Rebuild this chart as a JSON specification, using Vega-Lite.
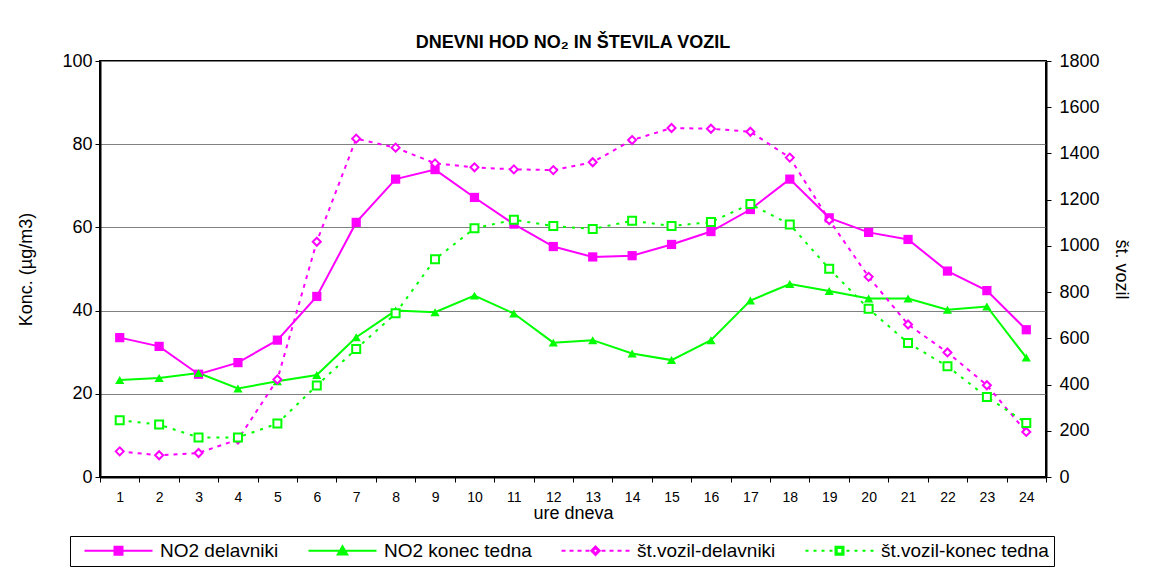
{
  "$schema": "https://vega.github.io/schema/vega-lite/v6.json",
  "width": 946,
  "height": 416,
  "autosize": {"type": "none"},
  "padding": {"left": 100, "top": 61, "right": 103, "bottom": 91},
  "background": "white",
  "config": {
    "font": "Liberation Sans",
    "view": {"stroke": "black", "strokeWidth": 2},
    "axis": {"labelColor": "black", "titleColor": "black", "tickColor": "black", "domainColor": "black", "domainWidth": 2, "tickSize": 5, "titleFontWeight": "normal"}
  },
  "title": {"text": "DNEVNI HOD NO₂ IN ŠTEVILA VOZIL", "fontSize": 18, "fontWeight": "bold", "offset": 0, "color": "black", "anchor": "middle"},
  "data": {"values": [
    {"hour":1,"series":"NO2 delavniki","value":33.5},{"hour":2,"series":"NO2 delavniki","value":31.4},{"hour":3,"series":"NO2 delavniki","value":24.7},{"hour":4,"series":"NO2 delavniki","value":27.5},{"hour":5,"series":"NO2 delavniki","value":32.9},{"hour":6,"series":"NO2 delavniki","value":43.4},{"hour":7,"series":"NO2 delavniki","value":61.2},{"hour":8,"series":"NO2 delavniki","value":71.6},{"hour":9,"series":"NO2 delavniki","value":73.9},{"hour":10,"series":"NO2 delavniki","value":67.2},{"hour":11,"series":"NO2 delavniki","value":60.8},{"hour":12,"series":"NO2 delavniki","value":55.4},{"hour":13,"series":"NO2 delavniki","value":52.9},{"hour":14,"series":"NO2 delavniki","value":53.2},{"hour":15,"series":"NO2 delavniki","value":55.9},{"hour":16,"series":"NO2 delavniki","value":59.0},{"hour":17,"series":"NO2 delavniki","value":64.3},{"hour":18,"series":"NO2 delavniki","value":71.6},{"hour":19,"series":"NO2 delavniki","value":62.3},{"hour":20,"series":"NO2 delavniki","value":58.8},{"hour":21,"series":"NO2 delavniki","value":57.1},{"hour":22,"series":"NO2 delavniki","value":49.5},{"hour":23,"series":"NO2 delavniki","value":44.8},{"hour":24,"series":"NO2 delavniki","value":35.4},
    {"hour":1,"series":"NO2 konec tedna","value":23.3},{"hour":2,"series":"NO2 konec tedna","value":23.8},{"hour":3,"series":"NO2 konec tedna","value":25.0},{"hour":4,"series":"NO2 konec tedna","value":21.3},{"hour":5,"series":"NO2 konec tedna","value":23.0},{"hour":6,"series":"NO2 konec tedna","value":24.5},{"hour":7,"series":"NO2 konec tedna","value":33.6},{"hour":8,"series":"NO2 konec tedna","value":40.0},{"hour":9,"series":"NO2 konec tedna","value":39.6},{"hour":10,"series":"NO2 konec tedna","value":43.6},{"hour":11,"series":"NO2 konec tedna","value":39.3},{"hour":12,"series":"NO2 konec tedna","value":32.3},{"hour":13,"series":"NO2 konec tedna","value":32.9},{"hour":14,"series":"NO2 konec tedna","value":29.7},{"hour":15,"series":"NO2 konec tedna","value":28.1},{"hour":16,"series":"NO2 konec tedna","value":32.9},{"hour":17,"series":"NO2 konec tedna","value":42.4},{"hour":18,"series":"NO2 konec tedna","value":46.4},{"hour":19,"series":"NO2 konec tedna","value":44.7},{"hour":20,"series":"NO2 konec tedna","value":42.9},{"hour":21,"series":"NO2 konec tedna","value":42.9},{"hour":22,"series":"NO2 konec tedna","value":40.2},{"hour":23,"series":"NO2 konec tedna","value":41.0},{"hour":24,"series":"NO2 konec tedna","value":28.7},
    {"hour":1,"series":"št.vozil-delavniki","value":111},{"hour":2,"series":"št.vozil-delavniki","value":94},{"hour":3,"series":"št.vozil-delavniki","value":104},{"hour":4,"series":"št.vozil-delavniki","value":162},{"hour":5,"series":"št.vozil-delavniki","value":422},{"hour":6,"series":"št.vozil-delavniki","value":1018},{"hour":7,"series":"št.vozil-delavniki","value":1464},{"hour":8,"series":"št.vozil-delavniki","value":1425},{"hour":9,"series":"št.vozil-delavniki","value":1357},{"hour":10,"series":"št.vozil-delavniki","value":1340},{"hour":11,"series":"št.vozil-delavniki","value":1331},{"hour":12,"series":"št.vozil-delavniki","value":1328},{"hour":13,"series":"št.vozil-delavniki","value":1362},{"hour":14,"series":"št.vozil-delavniki","value":1458},{"hour":15,"series":"št.vozil-delavniki","value":1510},{"hour":16,"series":"št.vozil-delavniki","value":1507},{"hour":17,"series":"št.vozil-delavniki","value":1494},{"hour":18,"series":"št.vozil-delavniki","value":1382},{"hour":19,"series":"št.vozil-delavniki","value":1112},{"hour":20,"series":"št.vozil-delavniki","value":866},{"hour":21,"series":"št.vozil-delavniki","value":660},{"hour":22,"series":"št.vozil-delavniki","value":539},{"hour":23,"series":"št.vozil-delavniki","value":397},{"hour":24,"series":"št.vozil-delavniki","value":195},
    {"hour":1,"series":"št.vozil-konec tedna","value":246},{"hour":2,"series":"št.vozil-konec tedna","value":227},{"hour":3,"series":"št.vozil-konec tedna","value":171},{"hour":4,"series":"št.vozil-konec tedna","value":171},{"hour":5,"series":"št.vozil-konec tedna","value":231},{"hour":6,"series":"št.vozil-konec tedna","value":396},{"hour":7,"series":"št.vozil-konec tedna","value":554},{"hour":8,"series":"št.vozil-konec tedna","value":708},{"hour":9,"series":"št.vozil-konec tedna","value":942},{"hour":10,"series":"št.vozil-konec tedna","value":1076},{"hour":11,"series":"št.vozil-konec tedna","value":1113},{"hour":12,"series":"št.vozil-konec tedna","value":1086},{"hour":13,"series":"št.vozil-konec tedna","value":1073},{"hour":14,"series":"št.vozil-konec tedna","value":1109},{"hour":15,"series":"št.vozil-konec tedna","value":1086},{"hour":16,"series":"št.vozil-konec tedna","value":1103},{"hour":17,"series":"št.vozil-konec tedna","value":1181},{"hour":18,"series":"št.vozil-konec tedna","value":1093},{"hour":19,"series":"št.vozil-konec tedna","value":901},{"hour":20,"series":"št.vozil-konec tedna","value":728},{"hour":21,"series":"št.vozil-konec tedna","value":580},{"hour":22,"series":"št.vozil-konec tedna","value":479},{"hour":23,"series":"št.vozil-konec tedna","value":346},{"hour":24,"series":"št.vozil-konec tedna","value":234}
  ]},
  "encoding": {
    "x": {
      "field": "hour", "type": "ordinal",
      "scale": {"paddingInner": 0, "paddingOuter": 0},
      "axis": {"tickBand": "extent", "labelAngle": 0, "labelFontSize": 14, "labelPadding": 8, "title": "ure dneva", "titleFontSize": 18, "titlePadding": 0, "grid": false}
    },
    "color": {
      "field": "series", "type": "nominal",
      "scale": {"domain": ["NO2 delavniki", "NO2 konec tedna", "št.vozil-delavniki", "št.vozil-konec tedna"], "range": ["#FF00FF", "#00FF00", "#FF00FF", "#00FF00"]},
      "legend": {
        "title": null, "orient": "none", "legendX": -30, "legendY": 475, "direction": "horizontal", "columns": 4,
        "strokeColor": "black", "fillColor": "white", "padding": 5, "labelFontSize": 19, "labelColor": "black", "labelLimit": 0,
        "symbolSize": 100, "columnPadding": 20, "labelOffset": 66, "symbolStrokeWidth": 2, "symbolOpacity": 1
      }
    }
  },
  "layer": [
    {
      "transform": [{"filter": "indexof(datum.series,'NO2')===0"}],
      "encoding": {
        "y": {
          "field": "value", "type": "quantitative",
          "scale": {"domain": [0, 100], "nice": false},
          "axis": {"orient": "left", "values": [0, 20, 40, 60, 80, 100], "grid": true, "gridColor": "#808080", "gridWidth": 1, "labelFontSize": 18, "labelPadding": 3, "title": "Konc. (µg/m3)", "titleFontSize": 18, "titlePadding": 26}
        }
      },
      "layer": [
        {"mark": {"type": "line", "strokeWidth": 2}},
        {"transform": [{"filter": "datum.series==='NO2 delavniki'"}],
         "mark": {"type": "point", "filled": true, "size": 85, "opacity": 1, "shape": "square"}},
        {"transform": [{"filter": "datum.series==='NO2 konec tedna'"}],
         "mark": {"type": "point", "filled": true, "size": 85, "opacity": 1, "shape": "triangle-up"}},
        {"transform": [{"filter": "false"}],
         "mark": {"type": "point", "filled": true, "opacity": 1},
         "encoding": {"shape": {"field": "series", "type": "nominal", "legend": null, "scale": {
           "domain": ["NO2 delavniki", "NO2 konec tedna", "št.vozil-delavniki", "št.vozil-konec tedna"],
           "range": [
             "M0,0H13.6M6,-0.8H7.6V0.8H6Z",
             "M0,0H13.6M6.8,-0.9L7.75,0.75L5.85,0.75Z",
             "M0,0H0.8M1.6,0H2.4M3.2,0H4M4.8,0H5.6M8,0H8.8M9.6,0H10.4M11.2,0H12M12.8,0H13.6M6.8,-0.85L7.65,0L6.8,0.85L5.95,0ZM6.8,-0.55L6.25,0L6.8,0.55L7.35,0Z",
             "M0,0H0.6M1.6,0H2.2M3.2,0H3.8M4.8,0H5.4M8.2,0H8.8M9.8,0H10.4M11.4,0H12M13,0H13.6M6,-0.8H7.6V0.8H6ZM6.25,-0.55V0.55H7.35V-0.55Z"
           ]}}}}
      ]
    },
    {
      "transform": [{"filter": "indexof(datum.series,'NO2')!==0"}],
      "encoding": {
        "y": {
          "field": "value", "type": "quantitative",
          "scale": {"domain": [0, 1800], "nice": false},
          "axis": {"orient": "right", "values": [0, 200, 400, 600, 800, 1000, 1200, 1400, 1600, 1800], "format": "d", "grid": false, "labelFontSize": 18, "labelPadding": 8, "title": "št. vozil", "titleFontSize": 18, "titlePadding": 12}
        }
      },
      "layer": [
        {"mark": {"type": "line", "strokeWidth": 2},
         "encoding": {"strokeDash": {"field": "series", "type": "nominal", "scale": {"domain": ["št.vozil-delavniki", "št.vozil-konec tedna"], "range": [[4, 5], [3, 6]]}, "legend": null}}},
        {"transform": [{"filter": "datum.series==='št.vozil-delavniki'"}],
         "mark": {"type": "point", "filled": false, "fill": "white", "size": 64, "strokeWidth": 2, "opacity": 1, "shape": "diamond"}},
        {"transform": [{"filter": "datum.series==='št.vozil-konec tedna'"}],
         "mark": {"type": "point", "filled": false, "fill": "white", "size": 64, "strokeWidth": 2, "opacity": 1, "shape": "square"}}
      ]
    }
  ],
  "resolve": {"scale": {"y": "independent"}}
}
